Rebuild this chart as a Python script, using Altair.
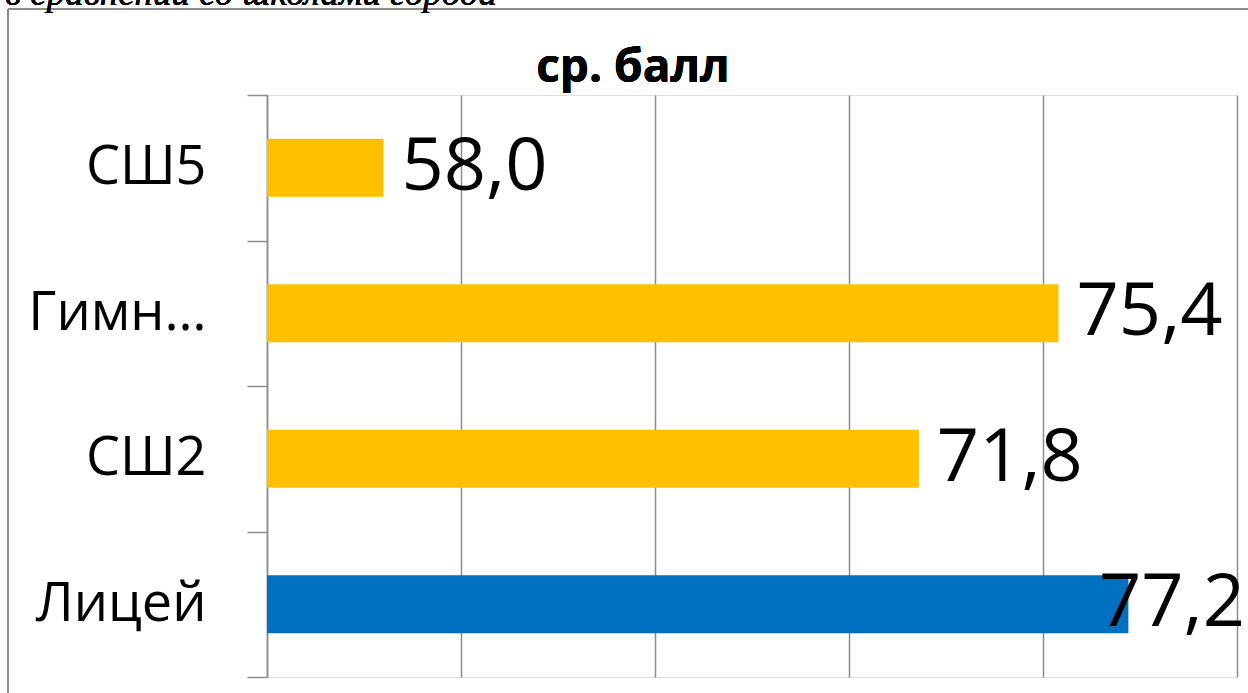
import altair as alt
import pandas as pd

schools = ["СШ5", "Гимн…", "СШ2", "Лицей"]
scores = [58.0, 75.4, 71.8, 77.2]
colors = ["#FFC000", "#FFC000", "#FFC000", "#0070C0"]

df = pd.DataFrame({"school": schools, "score": scores, "color": colors})

W, H = 970, 582
FONT = "Open Sans"
GRAY = "#8C8C8C"

base = alt.Chart(df)

y_enc = alt.Y(
    "school:N",
    sort=None,
    title=None,
    scale=alt.Scale(paddingInner=0, paddingOuter=0),
    axis=alt.Axis(
        labelFont=FONT, labelFontSize=54, labelColor="#000000",
        labelPadding=41, labelLimit=400,
        tickSize=20, tickColor=GRAY, tickWidth=1.5, tickBand="extent",
        domainColor=GRAY, domainWidth=1.5, grid=False,
    ),
)
x_enc = alt.X(
    "score:Q",
    title=None,
    scale=alt.Scale(domain=[55, 80], nice=False, zero=False),
    axis=alt.Axis(
        values=[55, 60, 65, 70, 75, 80], labels=False, ticks=False, domain=False,
        grid=True, gridColor=GRAY, gridWidth=1.5,
    ),
)

bars = base.mark_bar(height={"band": 0.4}, clip=True).encode(
    x=x_enc, y=y_enc, color=alt.Color("color:N", scale=None)
)

labels_base = base.transform_calculate(
    lbl="replace(format(datum.score, '.1f'), '.', ',')"
)
labels = labels_base.transform_filter("datum.score < 77").mark_text(
    align="left", baseline="middle", dx=18, fontSize=74, font=FONT, color="#000000"
).encode(x="score:Q", y=alt.Y("school:N", sort=None), text="lbl:N")
labels_last = labels_base.transform_filter("datum.score >= 77").mark_text(
    align="right", baseline="middle", fontSize=74, font=FONT, color="#000000"
).encode(x=alt.value(W + 8), y=alt.Y("school:N", sort=None), text="lbl:N")

title = base.mark_text(
    text="ср. балл", fontSize=46, fontWeight="bold", font=FONT,
    align="center", baseline="alphabetic", color="#000000"
).encode(x=alt.value(366), y=alt.value(-13))

caption = base.mark_text(
    text="в сравнении со школами города", fontSize=37, fontStyle="italic",
    font="Liberation Serif", align="left", baseline="alphabetic", color="#000000"
).encode(x=alt.value(-262), y=alt.value(-90))

frame_top = base.mark_rule(color=GRAY, strokeWidth=1.5).encode(
    x=alt.value(-259), x2=alt.value(W + 30), y=alt.value(-86)
)
frame_left = base.mark_rule(color=GRAY, strokeWidth=1.5).encode(
    x=alt.value(-259), y=alt.value(-86), y2=alt.value(H + 40)
)

chart = alt.layer(
    frame_top, frame_left, caption, bars, labels, labels_last, title
).properties(
    width=W, height=H,
    autosize=alt.AutoSizeParams(type="none"),
    padding={"left": 267, "top": 95, "right": 11, "bottom": 16},
).configure_view(stroke=None).configure(background="#FFFFFF")

chart.save("out.html", embed_options={"renderer": "svg", "actions": False})
